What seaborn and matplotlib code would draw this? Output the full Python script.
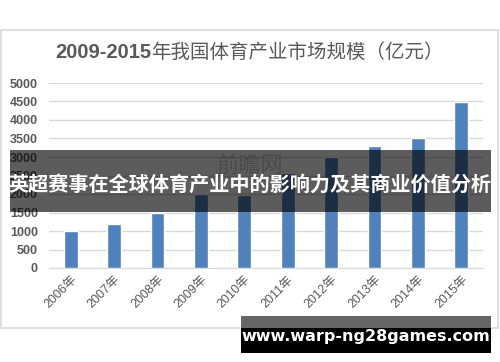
import matplotlib
matplotlib.use('Agg')
import matplotlib.pyplot as plt
import matplotlib.patches as patches
import seaborn as sns
import pandas as pd

# Datos
years = ['2006年', '2007年', '2008年', '2009年', '2010年',
         '2011年', '2012年', '2013年', '2014年', '2015年']
market = [1000, 1200, 1480, 2000, 1980, 2580, 3000, 3300, 3500, 4480]
y_ticks = [0, 500, 1000, 1500, 2000, 2500, 3000, 3500, 4000, 4500, 5000]

title_num = '2009-2015'
title_cn = '年我国体育产业市场规模（亿元）'
banner_text = '英超赛事在全球体育产业中的影响力及其商业价值分析'
site_text = 'www.warp-ng28games.com'

sns.set_style('white')
plt.rcParams['font.family'] = ['Liberation Sans', 'Noto Sans CJK SC', 'DejaVu Sans']

W, H = 500, 362
fig = plt.figure(figsize=(W / 100, H / 100), dpi=100)
fig.patch.set_facecolor('white')


def px(x, y):
    # pixel (desde arriba-izquierda) -> coordenadas de figura
    return x / W, 1 - y / H


# marco del grafico
x0, y0 = px(1, 328)
frame = patches.Rectangle((x0, y0), 497 / W, 298 / H, transform=fig.transFigure,
                          fill=False, edgecolor='#d9d9d9', linewidth=1.2, zorder=0)
fig.patches.append(frame)

ax = fig.add_axes([49 / W, 1 - 268 / H, 434 / W, 185 / H])
df = pd.DataFrame({'year': years, 'value': market})
sns.barplot(data=df, x='year', y='value', color='#4f81bd', saturation=1,
            width=0.32, ax=ax, zorder=3)
ax.set_xlim(-0.5, len(years) - 0.5)
ax.set_ylim(0, 5000)
ax.set_yticks(y_ticks)
ax.set_yticklabels([str(t) for t in y_ticks], fontsize=9, fontweight='bold',
                   color='#595959')
ax.set_xticks(range(len(years)))
ax.set_xticklabels(years, rotation=45, ha='right', rotation_mode='anchor',
                   fontsize=9, color='#595959')
ax.tick_params(axis='y', length=0, pad=8)
ax.tick_params(axis='x', length=0, pad=4)
ax.set_xlabel('')
ax.set_ylabel('')
ax.grid(axis='y', color='#d9d9d9', linewidth=1, zorder=0)
ax.set_axisbelow(True)
for s in ['top', 'right', 'left']:
    ax.spines[s].set_visible(False)
ax.spines['bottom'].set_color('#d9d9d9')
ax.patch.set_alpha(0)

# titulo en dos partes
tx, ty = px(55, 52)
t1 = fig.text(tx, ty, title_num, fontsize=14.5, fontweight='bold', color='#595959',
              ha='left', va='center')
fig.canvas.draw()
bb = t1.get_window_extent()
fig.text(bb.x1 / W, ty, title_cn, fontsize=14, color='#595959',
         ha='left', va='center', family=['Noto Sans CJK SC', 'DejaVu Sans'])

# marca de agua tenue
wx, wy = px(250, 165)
fig.text(wx, wy, '前瞻网', fontsize=16, color='#9a9a9a', alpha=0.45,
         ha='center', va='center', family=['Noto Sans CJK SC'], zorder=4)

# banda oscura
bx, by = px(10, 212)
banner = patches.Rectangle((bx, by), 481 / W, 62 / H, transform=fig.transFigure,
                           facecolor='black', alpha=0.64, edgecolor='none', zorder=5)
fig.patches.append(banner)
cx, cy = px(250, 184)
fig.text(cx, cy, banner_text, fontsize=14.5, fontweight='bold', color='white',
         ha='center', va='center', family=['Noto Sans CJK SC', 'DejaVu Sans'], zorder=6)

# caja del sitio
gx, gy = px(241, 328)
fig.patches.append(patches.Rectangle((gx, gy), 250 / W, 12 / H, transform=fig.transFigure,
                                     facecolor='#666666', edgecolor='none', zorder=5))
kx, ky = px(241, 353)
fig.patches.append(patches.Rectangle((kx, ky), 250 / W, 25 / H, transform=fig.transFigure,
                                     facecolor='black', edgecolor='none', zorder=5))
sx, sy = px(366, 337)
fig.text(sx, sy, site_text, fontsize=11.5, fontweight='bold', color='white',
         ha='center', va='center', family=['DejaVu Sans'], zorder=6)

fig.savefig('out.png', dpi=100, facecolor='white')
